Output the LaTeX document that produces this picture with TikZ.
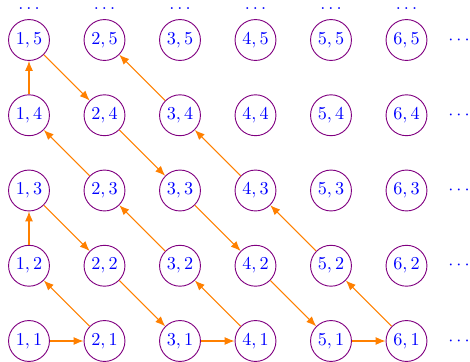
\documentclass[tikz,border=0pt]{standalone}
\usetikzlibrary{arrows.meta}
\begin{document}
\begin{tikzpicture}[x=0.55pt,y=0.55pt,
  pnode/.style={circle,draw=violet,line width=0.5pt,text=blue,minimum size=22.5pt,inner sep=0pt},
  dotsnode/.style={text=blue,inner sep=0.5pt},
  arr/.style={draw=orange,line width=0.6pt,-{Latex[length=5.5pt,width=4.4pt]}}]
\useasboundingbox (0,0) rectangle (470,-362);
\foreach \i in {1,...,6}{
  \foreach \j in {1,...,5}{
    \node[pnode] (n\i\j) at ({29+75.5*(\i-1)},{-(341-75.25*(\j-1))}) {$\i,\j$};
  }
  \node[dotsnode] (t\i) at ({29+75.5*(\i-1)},-9) {$\ldots$};
}
\foreach \j in {1,...,5}{
  \node[dotsnode] (r\j) at (459,{-(341-75.25*(\j-1))}) {$\cdots$};
}
\foreach \a/\b in {11/21,21/12,12/13,13/22,22/31,31/41,41/32,32/23,23/14,14/15,15/24,24/33,33/42,42/51,51/61,61/52,52/43,43/34,34/25}{
  \draw[arr] (n\a) -- (n\b);
}
\end{tikzpicture}
\end{document}
